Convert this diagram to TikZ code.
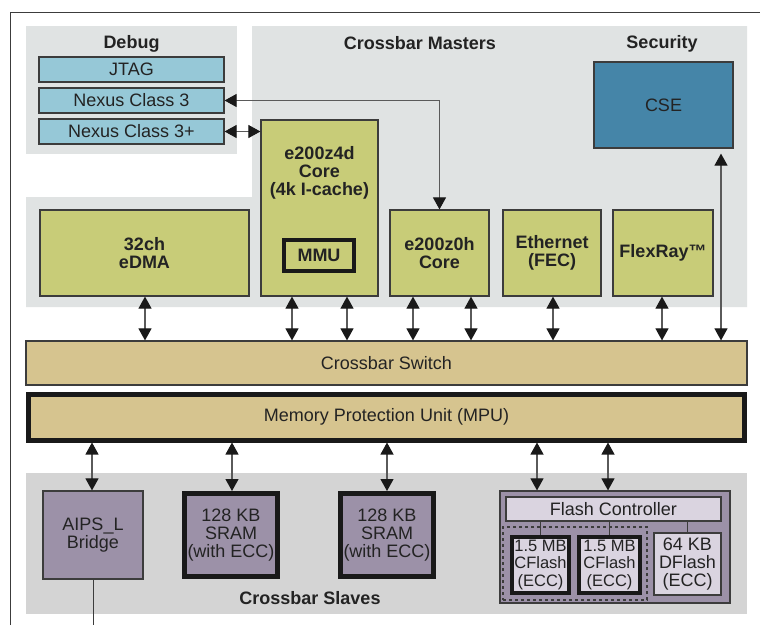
\documentclass[tikz,border=0pt]{standalone}
\usepackage{fontspec}
\setmainfont{Liberation Sans}
\usetikzlibrary{arrows.meta}
\definecolor{panelc}{RGB}{224,227,227}
\definecolor{slavec}{RGB}{212,212,212}
\definecolor{grnc}{RGB}{200,204,120}
\definecolor{bluec}{RGB}{150,200,215}
\definecolor{csec}{RGB}{69,133,168}
\definecolor{tanc}{RGB}{214,196,143}
\definecolor{purc}{RGB}{156,145,168}
\definecolor{fcc}{RGB}{218,212,224}
\definecolor{bordc}{RGB}{60,60,60}
\definecolor{arrc}{RGB}{90,90,90}
\definecolor{tipc}{RGB}{25,25,25}
\definecolor{txtc}{RGB}{35,35,35}
\begin{document}
\begin{tikzpicture}[x=1pt,y=-1pt,
  font=\fontsize{18}{18}\selectfont,
  box/.style={draw=bordc, line width=1.2pt, inner sep=0pt, align=center, text=txtc},
  thickbox/.style={box, line width=4.5pt, draw=black!90},
  grnbox/.style={box, fill=grnc, font=\fontsize{18}{18}\selectfont\bfseries},
  bluebox/.style={box, fill=bluec},
  purbox/.style={box, fill=purc},
  title/.style={inner sep=0pt, text=txtc, font=\fontsize{18}{18}\selectfont\bfseries},
  dar/.style={{Triangle[length=12pt,width=13pt,color=tipc]}-{Triangle[length=12pt,width=13pt,color=tipc]}, draw=arrc, line width=1.1pt},
  conn/.style={draw=bordc, line width=1pt}]
\useasboundingbox (0,0) rectangle (760,625);
\fill[white] (0,0) rectangle (760,625);
% outer frame
\draw[draw=bordc, line width=1pt] (10,625) -- (10,12) -- (760,12);
% panels
\node[fill=panelc, minimum width=211pt, minimum height=128pt, inner sep=0pt] (dbgpanel) at (131.5,90) {};
\fill[panelc] (252,26) -- (747,26) -- (747,307) -- (26,307) -- (26,197) -- (252,197) -- cycle;
\node[fill=slavec, minimum width=721pt, minimum height=141pt, inner sep=0pt] (slvpanel) at (386.5,543.5) {};
% titles
\node[title] (tdbg) at (131.5,43.5) {Debug};
\node[title] (tmst) at (420,43.5) {Crossbar Masters};
\node[title] (tsec) at (662,43.5) {Security};
\node[title] (tslv) at (310,598) {Crossbar Slaves};
% debug boxes
\node[bluebox, minimum width=185pt, minimum height=25pt] (jtag) at (131.5,69.5) {JTAG};
\node[bluebox, minimum width=185pt, minimum height=25pt] (nx3) at (131.5,100.5) {Nexus Class 3};
\node[bluebox, minimum width=185pt, minimum height=25pt] (nx3p) at (131.5,131.5) {Nexus Class 3+};
% security
\node[box, fill=csec, minimum width=139pt, minimum height=86pt] (cse) at (663.5,105) {CSE};
% masters
\node[grnbox, minimum width=117pt, minimum height=176pt] (z4d) at (319.5,208) {};
\node[title, align=center] (z4dlbl) at (319.5,173) {e200z4d\\Core\\(4k I-cache)};
\node[thickbox, minimum width=70pt, minimum height=31pt, font=\fontsize{18}{18}\selectfont\bfseries] (mmu) at (319,255.5) {MMU};
\node[grnbox, minimum width=209pt, minimum height=86pt] (edma) at (144.5,253) {32ch\\eDMA};
\node[grnbox, minimum width=99pt, minimum height=86pt] (z0h) at (439.5,253) {e200z0h\\Core};
\node[grnbox, minimum width=98pt, minimum height=86pt] (eth) at (552,253) {Ethernet\\(FEC)};
\node[grnbox, minimum width=100pt, minimum height=86pt] (flex) at (663,253) {FlexRay™};
% crossbar and MPU
\node[box, fill=tanc, minimum width=721pt, minimum height=44pt] (xbar) at (386.5,363) {Crossbar Switch};
\node[box, fill=tanc, line width=5pt, draw=black!90, minimum width=716pt, minimum height=46pt] (mpu) at (386.5,417) {Memory Protection Unit (MPU)};
% slaves
\node[purbox, minimum width=100pt, minimum height=88pt] (aips) at (93,535) {AIPS\_L\\Bridge};
\node[thickbox, fill=purc, line width=5pt, minimum width=93pt, minimum height=83pt] (sram1) at (231,535) {128 KB\\SRAM\\(with ECC)};
\node[thickbox, fill=purc, line width=5pt, minimum width=93pt, minimum height=83pt] (sram2) at (387,535) {128 KB\\SRAM\\(with ECC)};
\node[purbox, minimum width=230pt, minimum height=112pt] (flash) at (615,547) {};
\node[box, fill=fcc, minimum width=215pt, minimum height=24pt] (fc) at (613.5,509) {Flash Controller};
\node[draw=bordc, dashed, line width=1.2pt, minimum width=144pt, minimum height=73pt, inner sep=0pt] (cfgroup) at (575,563.5) {};
\node[thickbox, fill=fcc, line width=4pt, minimum width=57pt, minimum height=56pt, font=\fontsize{16.5}{17.5}\selectfont] (cf1) at (540.5,565) {1.5 MB\\CFlash\\(ECC)};
\node[thickbox, fill=fcc, line width=4pt, minimum width=61pt, minimum height=56pt, font=\fontsize{16.5}{17.5}\selectfont] (cf2) at (609.5,565) {1.5 MB\\CFlash\\(ECC)};
\node[box, fill=fcc, minimum width=67pt, minimum height=62pt] (df) at (687.5,564) {64 KB\\DFlash\\(ECC)};
% flash internal connectors
\draw[conn] (cf1.north) -- (cf1.north |- fc.south);
\draw[conn] (cf2.north) -- (cf2.north |- fc.south);
\draw[conn] (df.north) -- (df.north |- fc.south);
% AIPS downward line
\coordinate (aipsout) at (93,625);
\draw[conn] (aips.south) -- (aipsout);
% master arrows
\coordinate (m1) at (145,0);
\coordinate (m2) at (292,0);
\coordinate (m3) at (347,0);
\coordinate (m4) at (413,0);
\coordinate (m5) at (471,0);
\coordinate (m6) at (553,0);
\coordinate (m7) at (662,0);
\coordinate (m8) at (721,0);
\draw[dar] (m1 |- edma.south) -- (m1 |- xbar.north);
\draw[dar] (m2 |- z4d.south) -- (m2 |- xbar.north);
\draw[dar] (m3 |- z4d.south) -- (m3 |- xbar.north);
\draw[dar] (m4 |- z0h.south) -- (m4 |- xbar.north);
\draw[dar] (m5 |- z0h.south) -- (m5 |- xbar.north);
\draw[dar] (m6 |- eth.south) -- (m6 |- xbar.north);
\draw[dar] (m7 |- flex.south) -- (m7 |- xbar.north);
\draw[dar, shorten <=5pt] (m8 |- cse.south) -- (m8 |- xbar.north);
% debug arrows
\draw[dar] (nx3.east) -| (z0h.north);
\draw[dar] (nx3p.east) -- (z4d.west |- nx3p.east);
% slave arrows
\coordinate (s1) at (92,0);
\coordinate (s2) at (232,0);
\coordinate (s3) at (387,0);
\coordinate (s4) at (537,0);
\coordinate (s5) at (608,0);
\draw[dar] (s1 |- mpu.south) -- (s1 |- aips.north);
\draw[dar] (s2 |- mpu.south) -- (s2 |- sram1.north);
\draw[dar] (s3 |- mpu.south) -- (s3 |- sram2.north);
\draw[dar] (s4 |- mpu.south) -- (s4 |- flash.north);
\draw[dar] (s5 |- mpu.south) -- (s5 |- flash.north);
\end{tikzpicture}
\end{document}
